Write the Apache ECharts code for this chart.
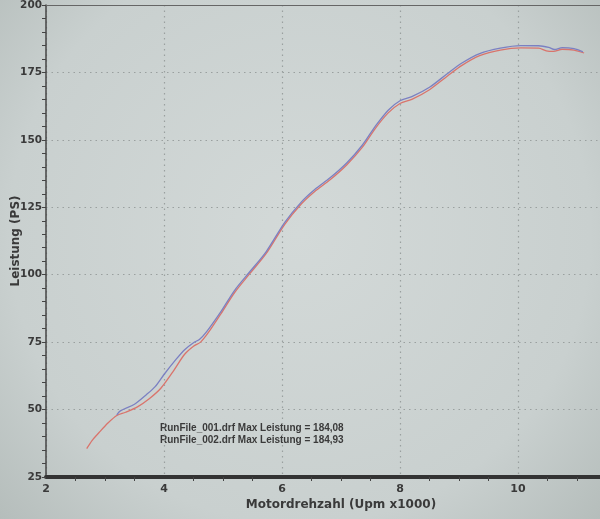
<!DOCTYPE html>
<html><head><meta charset="utf-8">
<script src="https://cdn.jsdelivr.net/npm/echarts@6/dist/echarts.min.js"></script>
<style>html,body{margin:0;padding:0;}#c{width:600px;height:519px;}</style>
</head><body><div id="c"></div>
<script>
// RPM (x1000) and power (PS)
const run1X = [2.69,2.78,2.90,3.05,3.20,3.35,3.55,3.75,3.95,4.15,4.35,4.50,4.62,4.75,4.97,5.20,5.45,5.73,6.05,6.33,6.55,6.82,7.10,7.36,7.58,7.80,8.00,8.20,8.50,8.80,9.05,9.35,9.70,10.05,10.35,10.48,10.60,10.75,10.95,11.12];
const run1Y = [35.5,38.5,41.5,45.0,47.8,49.0,51.0,54.0,58.0,64.0,70.5,73.5,75.0,78.5,85.7,93.5,100.3,107.8,118.8,126.3,130.8,135.3,140.8,147.2,154.2,160.0,163.5,165.0,168.6,173.6,177.6,181.2,183.3,184.08,184.0,183.0,182.8,183.6,183.3,182.2];
const run2X = [3.20,3.26,3.50,3.70,3.85,4.00,4.20,4.35,4.50,4.60,4.72,4.97,5.20,5.45,5.73,6.05,6.33,6.55,6.82,7.10,7.36,7.58,7.80,8.00,8.20,8.50,8.80,9.05,9.35,9.70,10.05,10.35,10.52,10.62,10.75,10.95,11.10];
const run2Y = [48.0,49.5,52.0,55.5,58.5,63.0,68.5,72.2,74.8,76.0,78.8,86.5,94.3,101.0,108.5,119.5,127.0,131.5,136.0,141.5,148.0,155.0,161.0,164.5,166.0,169.5,174.5,178.5,182.0,184.0,184.93,184.9,184.3,183.5,184.2,183.8,182.6];
const legendLines = ["RunFile_001.drf Max Leistung = 184,08","RunFile_002.drf Max Leistung = 184,93"];
const xName = "Motordrehzahl (Upm x1000)";
const yName = "Leistung (PS)";

const zip = (a,b) => a.map((v,i)=>[v,b[i]]);
const chart = echarts.init(document.getElementById('c'));
const txt = '#3a3a3a';
chart.setOption({
  animation:false,
  backgroundColor:{type:'radial',x:0.5,y:0.45,r:0.8,colorStops:[{offset:0,color:'#d3d9d8'},{offset:0.7,color:'#c9d0cf'},{offset:1,color:'#b5bdbb'}]},
  grid:{left:46,right:-36,top:5,bottom:42,containLabel:false,outerBoundsMode:'none'},
  xAxis:[{
    type:'value',min:2,max:12,interval:2,
    name:xName,nameLocation:'middle',nameGap:22,nameMoveOverlap:false,
    nameTextStyle:{color:txt,fontWeight:'bold',fontSize:12,fontFamily:'DejaVu Sans'},
    axisLine:{show:true,onZero:false,lineStyle:{color:'#333',width:4}},
    axisTick:{show:false},
    minorTick:{show:true,splitNumber:4,length:4,lineStyle:{color:'#444'}},
    axisLabel:{color:txt,fontWeight:'bold',fontSize:11,margin:7,fontFamily:'DejaVu Sans'},
    splitLine:{show:true,lineStyle:{type:[1.5,4],color:'#9aa09f',width:1.2}}
  },{
    type:'value',min:2,max:12,position:'top',
    axisLine:{show:true,lineStyle:{color:'#666',width:1.2}},
    axisTick:{show:false},axisLabel:{show:false},splitLine:{show:false}
  }],
  yAxis:{
    type:'value',min:25,max:200,interval:25,
    name:yName,nameLocation:'middle',nameGap:24,nameMoveOverlap:false,
    nameTextStyle:{color:txt,fontWeight:'bold',fontSize:12,fontFamily:'DejaVu Sans'},
    axisLine:{show:true,onZero:false,lineStyle:{color:'#444',width:1.5}},
    axisTick:{show:true,length:4,lineStyle:{color:'#444'}},
    minorTick:{show:true,splitNumber:5,length:4,lineStyle:{color:'#444'}},
    axisLabel:{color:txt,fontWeight:'bold',fontSize:10.5,margin:4,fontFamily:'DejaVu Sans'},
    splitLine:{show:true,lineStyle:{type:[1.5,4],color:'#9aa09f',width:1.2}}
  },
  graphic:legendLines.map((t,i)=>({type:'text',left:160,top:423+i*12,
    style:{text:t,fill:txt,font:'bold 10px "Liberation Sans"'}})),
  series:[
    {type:'line',name:'RunFile_001',data:zip(run1X,run1Y),smooth:0.3,showSymbol:false,
     lineStyle:{color:'#d9746c',width:1.3}},
    {type:'line',name:'RunFile_002',data:zip(run2X,run2Y),smooth:0.3,showSymbol:false,
     lineStyle:{color:'#7b80c2',width:1.3}}
  ]
});
</script></body></html>
